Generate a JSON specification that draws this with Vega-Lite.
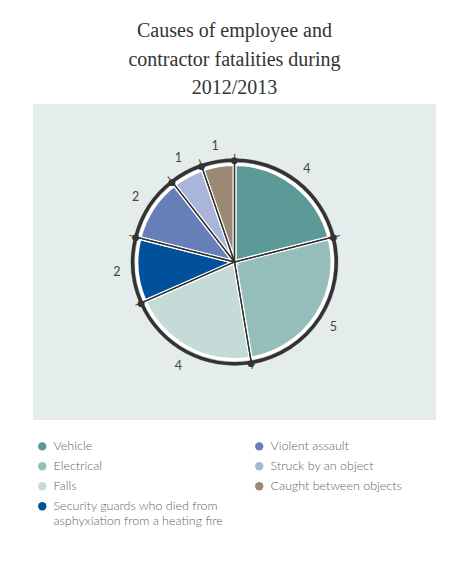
{
  "$schema": "https://vega.github.io/schema/vega-lite/v6.json",
  "width": 403,
  "height": 316,
  "autosize": "none",
  "padding": {"left": 33, "top": 104, "right": 19, "bottom": 146},
  "background": "white",
  "view": {"fill": "#e4edeb", "stroke": null},
  "config": {
    "view": {"fill": "#e4edeb", "stroke": null},
    "text": {"font": "Lato"}
  },
  "title": {
    "text": ["Causes of employee and", "contractor fatalities during", "2012/2013"],
    "font": "Liberation Serif",
    "fontSize": 20,
    "fontWeight": "normal",
    "color": "#333333",
    "lineHeight": 28.5,
    "offset": 6,
    "anchor": "middle"
  },
  "data": {
    "values": [
      {"cause": "Vehicle", "n": 4, "ord": 1},
      {"cause": "Electrical", "n": 5, "ord": 2},
      {"cause": "Falls", "n": 4, "ord": 3},
      {"cause": "Security guards who died from\nasphyxiation from a heating fire", "n": 2, "ord": 4},
      {"cause": "Violent assault", "n": 2, "ord": 5},
      {"cause": "Struck by an object", "n": 1, "ord": 6},
      {"cause": "Caught between objects", "n": 1, "ord": 7}
    ]
  },
  "layer": [
    {
      "mark": {"type": "arc", "outerRadius": 98, "stroke": "white", "strokeWidth": 4},
      "encoding": {
        "theta": {"field": "n", "type": "quantitative", "stack": true},
        "order": {"field": "ord", "type": "quantitative"},
        "color": {
          "field": "cause",
          "type": "nominal",
          "scale": {
            "domain": ["Vehicle", "Electrical", "Falls", "Security guards who died from\nasphyxiation from a heating fire", "Violent assault", "Struck by an object", "Caught between objects"],
            "range": ["#5b9a96", "#95bdb9", "#c5dbd8", "#00509b", "#667fb9", "#a9b5da", "#9b8a73"]
          },
          "legend": {
            "title": null,
            "orient": "none",
            "legendX": 3,
            "legendY": 336,
            "columns": 2,
            "columnPadding": 30,
            "rowPadding": 7,
            "padding": 0,
            "symbolType": "circle",
            "symbolSize": 70,
            "symbolStrokeWidth": 0,
            "labelFont": "Lato",
            "labelFontSize": 12.5,
            "labelFontWeight": 300,
            "labelColor": "#666666",
            "labelOffset": 5,
            "labelLimit": 300,
            "labelExpr": "split(datum.label, '\\n')",
            "labelBaseline": "middle",
            "encode": {"labels": {"update": {"lineHeight": {"value": 20}}}}
          }
        }
      }
    },
    {
      "mark": {"type": "arc", "outerRadius": 101.5, "fill": null, "stroke": "#333333", "strokeWidth": 1.3},
      "encoding": {
        "theta": {"field": "n", "type": "quantitative", "stack": true},
        "order": {"field": "ord", "type": "quantitative"}
      }
    },
    {
      "mark": {"type": "arc", "innerRadius": 100, "outerRadius": 103.5, "fill": "#333333", "stroke": "#333333", "strokeWidth": 0.3},
      "encoding": {
        "theta": {"field": "n", "type": "quantitative", "stack": true},
        "order": {"field": "ord", "type": "quantitative"}
      }
    },
    {
      "transform": [
        {"window": [{"op": "sum", "field": "n", "as": "cum"}], "sort": [{"field": "ord"}]}
      ],
      "layer": [
        {
          "mark": {"type": "text", "text": "|", "radius": 103, "fontSize": 11, "font": "DejaVu Sans", "color": "#333333", "baseline": "middle", "align": "center"},
          "encoding": {
            "theta": {"field": "cum", "type": "quantitative", "stack": null},
            "angle": {"field": "cum", "type": "quantitative", "scale": {"domain": [0, 19], "range": [0, 360]}, "legend": null}
          }
        },
        {
          "mark": {"type": "text", "text": "●", "radius": 102, "fontSize": 9, "font": "DejaVu Sans", "color": "#333333", "baseline": "middle", "align": "center"},
          "encoding": {
            "theta": {"field": "cum", "type": "quantitative", "stack": null}
          }
        }
      ]
    },
    {
      "mark": {"type": "text", "radius": 118, "fontSize": 12.5, "font": "Lato", "color": "#444444", "baseline": "middle", "align": "center"},
      "encoding": {
        "theta": {"field": "n", "type": "quantitative", "stack": true},
        "order": {"field": "ord", "type": "quantitative"},
        "text": {"field": "n", "type": "quantitative"}
      }
    }
  ]
}
